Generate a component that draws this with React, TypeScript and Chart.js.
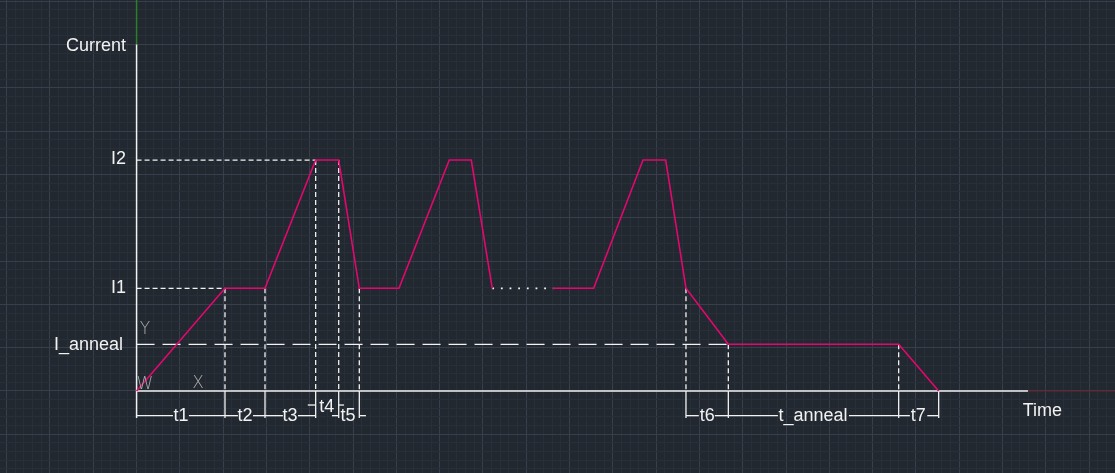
import { useEffect, useRef } from 'react';
import { Chart, registerables } from 'chart.js';

Chart.register(...registerables);

// Axis extent, in minor-grid units (1 unit = one minor cell, 5 units = one major cell)
const X_MIN = -15.77;
const X_MAX = 112.98;
const Y_MIN = -9.47;
const Y_MAX = 45.15;

const gridX: number[] = [];
for (let i = -15; i <= 112; i++) gridX.push(i);
const gridY: number[] = [];
for (let i = -9; i <= 45; i++) gridY.push(i);

// Current levels
const I_ANNEAL = 5.39;
const I1 = 11.86;
const I2 = 26.67;

// Waveform: first part (start, ramp, two pulses)
const pulseTimes = [0, 10.21, 14.83, 20.68, 23.34, 25.72, 30.3, 36.11, 38.65, 41.07];
const pulseCurrents = [0, I1, I1, I2, I2, I1, I1, I2, I2, I1];
// dotted omission
const gapTimes = [41.07, 48.12];
const gapCurrents = [I1, I1];
// Waveform: last pulse, anneal, ramp down
const tailTimes = [48.12, 52.78, 58.48, 61.1, 63.44, 68.33, 88.0, 92.62];
const tailCurrents = [I1, I1, I2, I2, I1, I_ANNEAL, I_ANNEAL, 0];

// Vertical dashed projection lines (time, level)
const dropTimes = [10.21, 14.83, 20.68, 23.34, 25.72, 63.44, 68.33, 88.0];
const dropLevels = [I1, I1, I2, I2, I1, I1, I_ANNEAL, I_ANNEAL];
// Extension lines below the time axis
const extTimes = [10.21, 14.83, 20.68, 23.34, 25.72, 63.44, 68.33, 88.0, 92.62];
const EXT_BOTTOM = -3.12;
const DIM_Y = -2.85;
const DIM_Y_T4 = -1.62;

// Dimension line segments [from, to, y]
const dimFrom = [0, 6.05, 10.21, 13.44, 14.83, 18.64, 19.77, 23.34, 22.56, 25.72, 63.44, 66.77, 68.33, 82.26, 88.0, 91.3];
const dimTo = [4.2, 10.21, 11.71, 14.83, 16.9, 20.68, 20.68, 23.95, 23.34, 26.49, 64.92, 68.33, 74.06, 88.0, 89.3, 92.62];
const dimLevel = [DIM_Y, DIM_Y, DIM_Y, DIM_Y, DIM_Y, DIM_Y, DIM_Y_T4, DIM_Y_T4, DIM_Y, DIM_Y, DIM_Y, DIM_Y, DIM_Y, DIM_Y, DIM_Y, DIM_Y];

// Axes
const Y_AXIS_TOP = 40;
const X_AXIS_END = 102.93;

// Text labels
const labelTexts = ['Current', 'I2', 'I1', 'I_anneal', 'Time', 't1', 't2', 't3', 't4', 't5', 't6', 't_anneal', 't7'];
const labelX = [-1.22, -1.22, -1.22, -1.57, 104.6, 5.13, 12.52, 17.71, 21.95, 24.41, 65.9, 78.1, 90.25];
const labelY = [39.87, 26.75, 11.86, 5.35, -2.27, -2.85, -2.85, -2.85, -1.81, -2.85, -2.85, -2.85, -2.85];
const labelAlign = ['right', 'right', 'right', 'right', 'center', 'center', 'center', 'center', 'center', 'center', 'center', 'center', 'center'];

// UCS icon letters
const ucsTexts = ['Y', 'W', 'X'];
const ucsX = [0.97, 0.97, 7.09];
const ucsY = [7.04, 0.75, 0.81];

const BG = '#212830';
const GRID_MAJOR = '#383e4c';
const GRID_MINOR = '#292f39';
const WHITE = '#f2f2f2';
const PINK = '#e5066f';
const GREEN = '#2b7f2b';
const DARK_RED = '#6e2230';
const FONT = '"Liberation Sans", Arial, sans-serif';

function pts(xs: number[], ys: number[]) {
  return xs.map((x, i) => ({ x, y: ys[i] }));
}

function lineDs(data: { x: number; y: number }[], color: string, width: number, dash: number[] = []) {
  return {
    data,
    showLine: true,
    borderColor: color,
    borderWidth: width,
    borderDash: dash,
    pointRadius: 0,
    fill: false,
    tension: 0,
  };
}

const textPlugin = {
  id: 'cadText',
  afterDatasetsDraw(chart: any) {
    const { ctx, scales } = chart;
    ctx.save();
    ctx.textBaseline = 'middle';
    ctx.font = `18px ${FONT}`;
    ctx.fillStyle = WHITE;
    labelTexts.forEach((t, i) => {
      ctx.textAlign = labelAlign[i];
      ctx.fillText(t, scales.x.getPixelForValue(labelX[i]), scales.y.getPixelForValue(labelY[i]));
    });
    ctx.font = `300 17px "DejaVu Sans", ${FONT}`;
    ctx.fillStyle = '#a8a8a8';
    ctx.textAlign = 'center';
    ucsTexts.forEach((t, i) => {
      ctx.fillText(t, scales.x.getPixelForValue(ucsX[i]), scales.y.getPixelForValue(ucsY[i]));
    });
    ctx.restore();
  },
};

export default function App() {
  const ref = useRef<HTMLCanvasElement | null>(null);

  useEffect(() => {
    if (!ref.current) return;
    const datasets: any[] = [];
    // waveform on top
    datasets.push(lineDs(pts(pulseTimes, pulseCurrents), PINK, 1.6));
    datasets.push(lineDs(pts(tailTimes, tailCurrents), PINK, 1.6));
    datasets.push(lineDs(pts(gapTimes, gapCurrents), WHITE, 1.8, [1.8, 6.86]));
    // projection dashed lines
    datasets.push(lineDs(pts([0, 20.68], [I2, I2]), WHITE, 1.3, [5, 3]));
    datasets.push(lineDs(pts([0, 10.21], [I1, I1]), WHITE, 1.3, [5, 3]));
    dropTimes.forEach((t, i) => {
      datasets.push(lineDs(pts([t, t], [dropLevels[i], 0]), WHITE, 1.3, [5, 3]));
    });
    // I_anneal long dash
    datasets.push(lineDs(pts([0, 68.33], [I_ANNEAL, I_ANNEAL]), WHITE, 1.3, [18, 8]));
    // extension lines
    extTimes.forEach((t) => {
      datasets.push(lineDs(pts([t, t], [0, EXT_BOTTOM]), WHITE, 1.3));
    });
    // dimension lines
    dimFrom.forEach((f, i) => {
      datasets.push(lineDs(pts([f, dimTo[i]], [dimLevel[i], dimLevel[i]]), WHITE, 1.3));
    });
    // axes
    datasets.push(lineDs(pts([0, 0], [EXT_BOTTOM, Y_AXIS_TOP]), WHITE, 1.5));
    datasets.push(lineDs(pts([0, 0], [Y_AXIS_TOP, Y_MAX + 1]), GREEN, 1.5));
    datasets.push(lineDs(pts([0, X_AXIS_END], [0, 0]), WHITE, 1.5));
    datasets.push(lineDs(pts([X_AXIS_END, X_MAX + 1], [0, 0]), DARK_RED, 1.2));

    const gridColor = (c: any) => {
      const v = Math.round(c.tick?.value ?? 1);
      return v % 5 === 0 ? GRID_MAJOR : GRID_MINOR;
    };

    const chart = new Chart(ref.current, {
      type: 'scatter',
      data: { datasets },
      plugins: [textPlugin],
      options: {
        animation: false,
        responsive: false,
        events: [],
        layout: { padding: 0 },
        plugins: { legend: { display: false }, tooltip: { enabled: false } },
        scales: {
          x: {
            type: 'linear',
            min: X_MIN,
            max: X_MAX,
            border: { display: false },
            ticks: { display: false },
            grid: { color: gridColor, lineWidth: 1, drawTicks: false },
            afterBuildTicks: (s: any) => {
              s.ticks = gridX.map((v) => ({ value: v }));
            },
          },
          y: {
            type: 'linear',
            min: Y_MIN,
            max: Y_MAX,
            border: { display: false },
            ticks: { display: false },
            grid: { color: gridColor, lineWidth: 1, drawTicks: false },
            afterBuildTicks: (s: any) => {
              s.ticks = gridY.map((v) => ({ value: v }));
            },
          },
        },
      } as any,
    });
    return () => chart.destroy();
  }, []);

  return (
    <div style={{ position: 'fixed', left: 0, top: 0, width: 1115, height: 473, background: BG }}>
      <canvas ref={ref} width={1115} height={473} style={{ display: 'block', width: 1115, height: 473 }} />
    </div>
  );
}
